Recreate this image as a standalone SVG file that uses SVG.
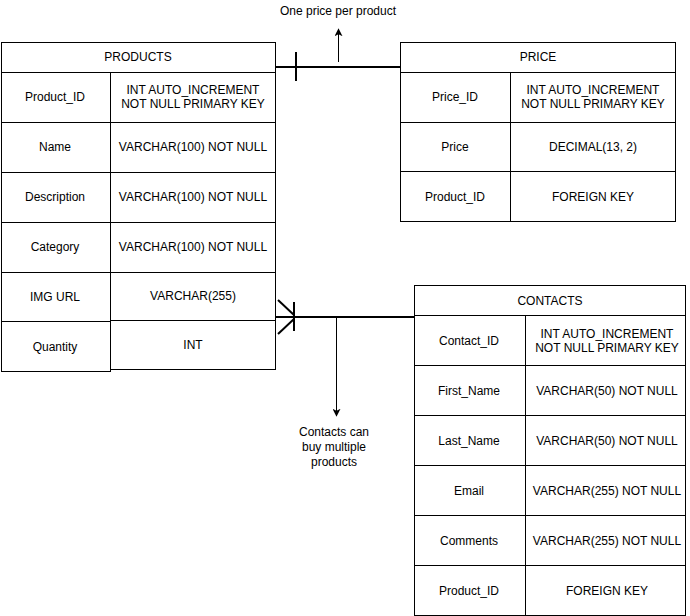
<svg xmlns="http://www.w3.org/2000/svg" width="690" height="616" viewBox="0 0 690 616">
  <style>
    .cell { fill: #ffffff; stroke: #000000; stroke-width: 1; }
    .t { font-family: "Liberation Sans", Arial, Helvetica, sans-serif; font-size: 12px; fill: #000000; text-anchor: middle; dominant-baseline: central; }
    .rel { fill: none; stroke: #000000; stroke-width: 2; }
    .note { fill: none; stroke: #000000; stroke-width: 1; }
  </style>
  <defs>
    <marker id="arrow" viewBox="0 0 10 10" refX="9" refY="5" markerWidth="8" markerHeight="8" markerUnits="userSpaceOnUse" orient="auto">
      <path d="M0,0 L10,5 L0,10 L2.5,5 Z" fill="#000000"/>
    </marker>
  </defs>
  <rect width="690" height="616" fill="#ffffff"/>

  <!-- PRODUCTS table -->
  <g id="products">
    <rect class="cell" x="1.5" y="42.5" width="274" height="30"/>
    <text class="t" x="138" y="57">PRODUCTS</text>
    <rect class="cell" x="1.5" y="72.5" width="109" height="50"/>
    <rect class="cell" x="110.5" y="72.5" width="165" height="50"/>
    <text class="t" x="55" y="97">Product_ID</text>
    <text class="t" x="193" y="90">INT AUTO_INCREMENT</text>
    <text class="t" x="193" y="104">NOT NULL PRIMARY KEY</text>
    <rect class="cell" x="1.5" y="122.5" width="109" height="50"/>
    <rect class="cell" x="110.5" y="122.5" width="165" height="50"/>
    <text class="t" x="55" y="147">Name</text>
    <text class="t" x="193" y="147">VARCHAR(100) NOT NULL</text>
    <rect class="cell" x="1.5" y="172.5" width="109" height="50"/>
    <rect class="cell" x="110.5" y="172.5" width="165" height="50"/>
    <text class="t" x="55" y="197">Description</text>
    <text class="t" x="193" y="197">VARCHAR(100) NOT NULL</text>
    <rect class="cell" x="1.5" y="222.5" width="109" height="50"/>
    <rect class="cell" x="110.5" y="222.5" width="165" height="50"/>
    <text class="t" x="55" y="247">Category</text>
    <text class="t" x="193" y="247">VARCHAR(100) NOT NULL</text>
    <rect class="cell" x="1.5" y="272.5" width="109" height="50"/>
    <rect class="cell" x="110.5" y="272.5" width="165" height="48"/>
    <text class="t" x="55" y="297">IMG URL</text>
    <text class="t" x="193" y="296">VARCHAR(255)</text>
    <rect class="cell" x="1.5" y="321.5" width="109" height="50"/>
    <rect class="cell" x="110.5" y="320.5" width="165" height="49"/>
    <text class="t" x="55" y="347">Quantity</text>
    <text class="t" x="193" y="345">INT</text>
  </g>

  <!-- PRICE table -->
  <g id="price">
    <rect class="cell" x="400.5" y="42.5" width="275" height="30"/>
    <text class="t" x="538" y="57">PRICE</text>
    <rect class="cell" x="400.5" y="72.5" width="110" height="50"/>
    <rect class="cell" x="510.5" y="72.5" width="165" height="50"/>
    <text class="t" x="455" y="97">Price_ID</text>
    <text class="t" x="593" y="90">INT AUTO_INCREMENT</text>
    <text class="t" x="593" y="104">NOT NULL PRIMARY KEY</text>
    <rect class="cell" x="400.5" y="122.5" width="110" height="49"/>
    <rect class="cell" x="510.5" y="122.5" width="165" height="49"/>
    <text class="t" x="455" y="147">Price</text>
    <text class="t" x="593" y="147">DECIMAL(13, 2)</text>
    <rect class="cell" x="400.5" y="171.5" width="110" height="50"/>
    <rect class="cell" x="510.5" y="171.5" width="165" height="50"/>
    <text class="t" x="455" y="197">Product_ID</text>
    <text class="t" x="593" y="197">FOREIGN KEY</text>
  </g>

  <!-- CONTACTS table -->
  <g id="contacts">
    <rect class="cell" x="414.5" y="285.5" width="271" height="30"/>
    <text class="t" x="550" y="301">CONTACTS</text>
    <rect class="cell" x="414.5" y="315.5" width="111" height="50"/>
    <rect class="cell" x="525.5" y="315.5" width="160" height="50"/>
    <text class="t" x="469" y="341">Contact_ID</text>
    <text class="t" x="607" y="334">INT AUTO_INCREMENT</text>
    <text class="t" x="607" y="348">NOT NULL PRIMARY KEY</text>
    <rect class="cell" x="414.5" y="365.5" width="111" height="50"/>
    <rect class="cell" x="525.5" y="365.5" width="160" height="50"/>
    <text class="t" x="469" y="391">First_Name</text>
    <text class="t" x="607" y="391">VARCHAR(50) NOT NULL</text>
    <rect class="cell" x="414.5" y="415.5" width="111" height="50"/>
    <rect class="cell" x="525.5" y="415.5" width="160" height="50"/>
    <text class="t" x="469" y="441">Last_Name</text>
    <text class="t" x="607" y="441">VARCHAR(50) NOT NULL</text>
    <rect class="cell" x="414.5" y="465.5" width="111" height="50"/>
    <rect class="cell" x="525.5" y="465.5" width="160" height="50"/>
    <text class="t" x="469" y="491">Email</text>
    <text class="t" x="607" y="491">VARCHAR(255) NOT NULL</text>
    <rect class="cell" x="414.5" y="515.5" width="111" height="50"/>
    <rect class="cell" x="525.5" y="515.5" width="160" height="50"/>
    <text class="t" x="469" y="541">Comments</text>
    <text class="t" x="607" y="541">VARCHAR(255) NOT NULL</text>
    <rect class="cell" x="414.5" y="565.5" width="111" height="50"/>
    <rect class="cell" x="525.5" y="565.5" width="160" height="50"/>
    <text class="t" x="469" y="591">Product_ID</text>
    <text class="t" x="607" y="591">FOREIGN KEY</text>
  </g>

  <!-- relationships and their notes -->
  <g id="connectors">
    <!-- PRODUCTS one to one PRICE -->
    <line class="rel" x1="276" y1="67" x2="400" y2="67"/>
    <line class="rel" x1="296" y1="52" x2="296" y2="81"/>
    <line class="note" x1="338.5" y1="62" x2="338.5" y2="29" marker-end="url(#arrow)"/>
    <text class="t" x="338" y="11">One price per product</text>

    <!-- PRODUCTS one-or-many to CONTACTS -->
    <line class="rel" x1="276" y1="317" x2="414" y2="317"/>
    <line class="rel" x1="294" y1="302" x2="294" y2="331"/>
    <line class="rel" x1="278" y1="300" x2="294" y2="315"/>
    <line class="rel" x1="278" y1="334" x2="294" y2="319"/>
    <line class="note" x1="336.5" y1="317" x2="336.5" y2="416" marker-end="url(#arrow)"/>
    <text class="t" x="334" y="432">Contacts can</text>
    <text class="t" x="334" y="447">buy multiple</text>
    <text class="t" x="334" y="462">products</text>
  </g>
</svg>
